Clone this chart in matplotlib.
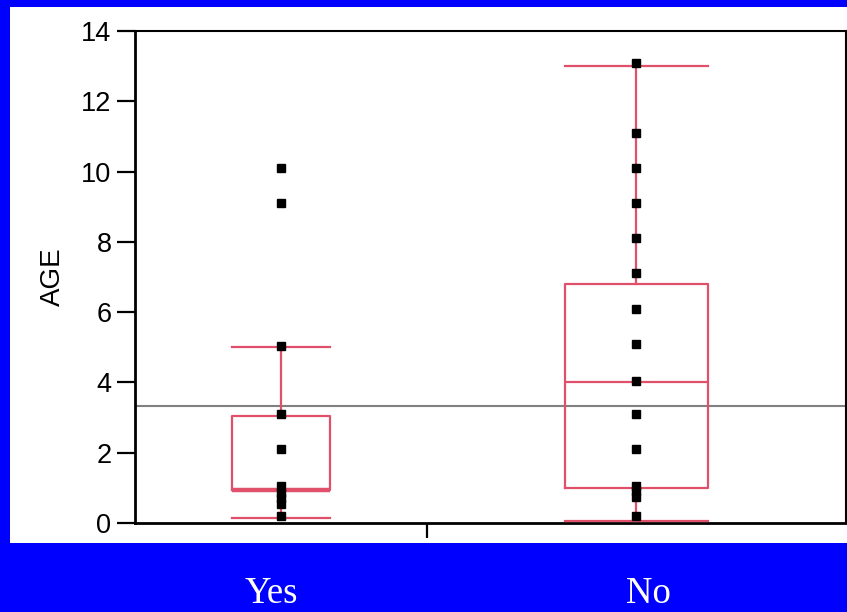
import matplotlib
matplotlib.use("Agg")
import matplotlib.pyplot as plt
from matplotlib.patches import Rectangle

# ---- data ----
groups = ["Yes", "No"]
yes_ages = [10.1, 9.1, 5.05, 3.1, 2.1, 1.05, 0.85, 0.7, 0.55, 0.2]
no_ages = [13.1, 11.1, 10.1, 9.1, 8.1, 7.1, 6.1, 5.1, 4.05, 3.1, 2.1, 1.05, 0.9, 0.75, 0.2]
# box stats: q1, median, q3, whisker low, whisker high
yes_box = dict(q1=0.95, med=0.95, q3=3.05, whislo=0.15, whishi=5.0)
no_box = dict(q1=1.0, med=4.0, q3=6.8, whislo=0.05, whishi=13.0)
grand_mean = 3.33
y_ticks = [0, 2, 4, 6, 8, 10, 12, 14]

# ---- layout (group split on x axis) ----
split = 0.41
centers = [split / 2, (split + 1) / 2]
widths = [0.138, 0.201]

fig = plt.figure(figsize=(8.47, 6.12), dpi=100)
fig.patch.set_facecolor("#0000FF")
fig.patches.append(Rectangle((10 / 847, 69 / 612), 1 - 10 / 847, 536 / 612,
                             transform=fig.transFigure, facecolor="white",
                             edgecolor="none", zorder=-10))

ax = fig.add_axes([135 / 847, 89 / 612, 711 / 847, 492 / 612])
ax.set_zorder(5)
ax.set_facecolor("white")
ax.set_xlim(0, 1)
ax.set_ylim(0, 14)

red = "#E0506A"
stats = []
for g, b in zip(groups, [yes_box, no_box]):
    d = dict(b)
    d["label"] = g
    d["fliers"] = []
    stats.append(d)

ax.bxp(stats, positions=centers, widths=widths, capwidths=widths,
       showfliers=False, manage_ticks=False,
       boxprops=dict(color=red, linewidth=1.6),
       whiskerprops=dict(color=red, linewidth=1.6),
       capprops=dict(color=red, linewidth=1.6),
       medianprops=dict(color=red, linewidth=1.6), zorder=3)
# thicker median on "Yes" (coincides with Q1)
ax.plot([centers[0] - widths[0] / 2, centers[0] + widths[0] / 2],
        [yes_box["med"], yes_box["med"]], color=red, lw=3.2, zorder=3,
        solid_capstyle="butt")

ax.axhline(grand_mean, color="#808080", lw=1.5, zorder=2)

for c, vals in zip(centers, [yes_ages, no_ages]):
    ax.plot([c] * len(vals), vals, "s", color="black", markersize=6,
            linestyle="none", zorder=4)

ax.set_yticks(y_ticks)
ax.set_yticklabels([str(t) for t in y_ticks], fontsize=19.5,
                   family="Liberation Sans")
ax.tick_params(axis="y", length=13, width=1.6, pad=4, direction="out")
ax.set_xticks([split])
ax.set_xticklabels([""])
ax.tick_params(axis="x", length=11, width=1.6, direction="out")
ax.set_ylabel("AGE", fontsize=20, family="Liberation Sans", labelpad=11)

for s in ["left", "bottom"]:
    ax.spines[s].set_linewidth(2)
for s in ["top", "right"]:
    ax.spines[s].set_linewidth(1.5)

label_x = [271, 648]
for g, lx in zip(groups, label_x):
    fig.text(lx / 847, 1 - 594 / 612, g, color="white", fontsize=26.5,
             family="Liberation Serif", ha="center", va="center")

fig.savefig("out.png", dpi=100, facecolor=fig.get_facecolor())
